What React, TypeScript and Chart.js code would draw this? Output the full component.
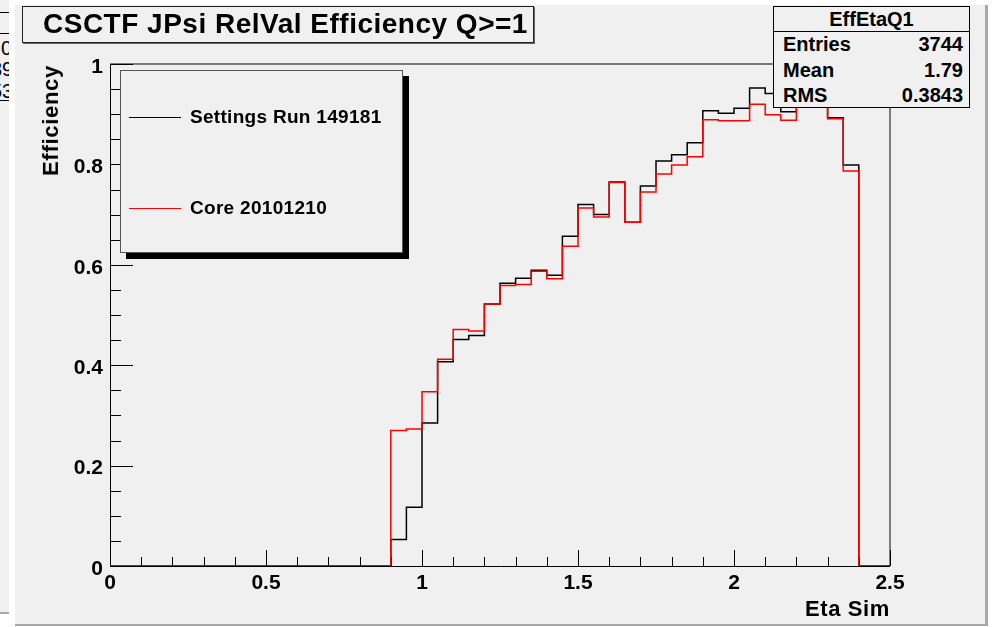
import React, { useEffect, useRef } from "react";
import { Chart, registerables } from "chart.js";

Chart.register(...registerables);

// ---------- data ----------
const etaMin = 0;
const etaMax = 2.5;
const binWidth = 0.05;

// Efficiency per eta bin (50 bins, 0 .. 2.5)
const settingsRunEff = [
  0, 0, 0, 0, 0, 0, 0, 0, 0, 0,
  0, 0, 0, 0, 0, 0, 0, 0,
  0.053, 0.117, 0.285, 0.407, 0.451, 0.459, 0.522, 0.563, 0.573, 0.589,
  0.579, 0.657, 0.72, 0.7, 0.765, 0.685, 0.757, 0.807, 0.819, 0.843,
  0.907, 0.902, 0.912, 0.952, 0.941, 0.905, 0.955, 0.928, 0.893, 0.799,
  0, 0,
];
const coreEff = [
  0, 0, 0, 0, 0, 0, 0, 0, 0, 0,
  0, 0, 0, 0, 0, 0, 0, 0,
  0.27, 0.273, 0.347, 0.412, 0.471, 0.468, 0.522, 0.559, 0.561, 0.587,
  0.572, 0.637, 0.713, 0.695, 0.764, 0.685, 0.745, 0.781, 0.799, 0.815,
  0.889, 0.887, 0.887, 0.92, 0.899, 0.888, 0.949, 0.92, 0.891, 0.787,
  0, 0,
];
const xTickLabels = ["0", "0.5", "1", "1.5", "2", "2.5"];
const yTickLabels = ["0", "0.2", "0.4", "0.6", "0.8", "1"];
const seriesNames = ["Settings Run 149181", "Core 20101210"];
const statsRows = [
  ["Entries", "3744"],
  ["Mean", "1.79"],
  ["RMS", "0.3843"],
];

const FONT = '"Liberation Sans", Arial, Helvetica, sans-serif';

function toSteps(vals: number[]) {
  const pts = vals.map((v, i) => ({ x: etaMin + i * binWidth, y: v }));
  pts.push({ x: etaMax, y: vals[vals.length - 1] });
  return pts;
}

const frameTicks = {
  id: "frameTicks",
  beforeDatasetsDraw(chart: any) {
    const { ctx, chartArea: a, scales } = chart;
    const x = scales.x;
    const y = scales.y;
    ctx.save();
    ctx.strokeStyle = "#555";
    ctx.lineWidth = 1.5;
    ctx.beginPath();
    ctx.moveTo(a.left, a.top);
    ctx.lineTo(a.right, a.top);
    ctx.lineTo(a.right, a.bottom);
    ctx.stroke();
    ctx.strokeStyle = "#000";
    ctx.lineWidth = 1;
    ctx.beginPath();
    ctx.moveTo(a.left + 0.5, a.top);
    ctx.lineTo(a.left + 0.5, a.bottom + 0.5);
    ctx.lineTo(a.right, a.bottom + 0.5);
    ctx.stroke();
    ctx.beginPath();
    for (let k = 0; k <= 20; k++) {
      const py = Math.round(y.getPixelForValue(k * 0.05)) + 0.5;
      const len = k % 4 === 0 ? 23 : 11;
      ctx.moveTo(a.left, py);
      ctx.lineTo(a.left + len, py);
    }
    for (let k = 0; k <= 25; k++) {
      const px = Math.round(x.getPixelForValue(k * 0.1)) + 0.5;
      const len = k % 5 === 0 ? 16 : 9;
      ctx.moveTo(px, a.bottom);
      ctx.lineTo(px, a.bottom - len);
    }
    ctx.stroke();
    ctx.restore();
  },
};

export default function App() {
  const ref = useRef<HTMLCanvasElement>(null);

  useEffect(() => {
    if (!ref.current) return;
    const chart = new Chart(ref.current, {
      type: "line",
      data: {
        datasets: [
          {
            label: seriesNames[1],
            data: toSteps(coreEff),
            borderColor: "#ff0000",
            borderWidth: 1.5,
            pointRadius: 0,
            stepped: "before",
            fill: false,
            order: 0,
          },
          {
            label: seriesNames[0],
            data: toSteps(settingsRunEff),
            borderColor: "#000000",
            borderWidth: 1.5,
            pointRadius: 0,
            stepped: "before",
            fill: false,
            order: 1,
          },
        ],
      },
      options: {
        animation: false,
        responsive: false,
        devicePixelRatio: 1,
        events: [],
        layout: { padding: { left: 0, right: 102, top: 64, bottom: 0 } },
        plugins: { legend: { display: false }, tooltip: { enabled: false } },
        scales: {
          x: {
            type: "linear",
            min: etaMin,
            max: etaMax,
            grid: { display: false, drawTicks: false },
            border: { display: false },
            ticks: {
              stepSize: 0.5,
              autoSkip: false,
              maxRotation: 0,
              padding: 5,
              color: "#000",
              font: { family: FONT, size: 21, weight: "bold" },
              callback: (v: any) => {
                const i = Math.round(Number(v) / 0.5);
                return xTickLabels[i] ?? "";
              },
            },
            afterFit: (s: any) => {
              s.height = 61;
            },
          },
          y: {
            type: "linear",
            min: 0,
            max: 1,
            grid: { display: false, drawTicks: false },
            border: { display: false },
            ticks: {
              stepSize: 0.2,
              autoSkip: false,
              padding: 7,
              labelOffset: 3,
              color: "#000",
              font: { family: FONT, size: 21, weight: "bold" },
              callback: (v: any) => {
                const i = Math.round(Number(v) / 0.2);
                return yTickLabels[i] ?? "";
              },
            },
            afterFit: (s: any) => {
              s.width = 110;
            },
          },
        },
      } as any,
      plugins: [frameTicks],
    });
    return () => chart.destroy();
  }, []);

  const bold = { fontFamily: FONT, fontWeight: "bold" as const, color: "#000" };

  return (
    <div style={{ position: "fixed", left: 0, top: 0, width: 992, height: 627, background: "#fff", overflow: "hidden" }}>
      {/* partial neighbouring pad on the left */}
      <div style={{ position: "absolute", left: 0, top: 0, width: 9, height: 612, background: "#f0f0f0", borderBottom: "2px solid #a8a8a8", overflow: "hidden" }}>
        <div style={{ position: "absolute", left: 0, top: 12, width: 9, height: 0, borderTop: "1px solid #000" }} />
        <div style={{ position: "absolute", left: 0, top: 33, width: 9, height: 0, borderTop: "1px solid #000" }} />
        <div style={{ position: "absolute", left: 0, top: 100, width: 9, height: 0, borderTop: "1px solid #000" }} />
        <div style={{ position: "absolute", left: 1, top: 37, fontFamily: FONT, fontSize: 20, whiteSpace: "nowrap" }}>0</div>
        <div style={{ position: "absolute", left: -9, top: 58, fontFamily: FONT, fontSize: 20, whiteSpace: "nowrap" }}>39</div>
        <div style={{ position: "absolute", left: -9, top: 80, fontFamily: FONT, fontSize: 20, whiteSpace: "nowrap" }}>53</div>
      </div>
      {/* main pad */}
      <div style={{ position: "absolute", left: 15, top: 5, width: 970, height: 619, background: "#f0f0f0", borderRight: "3px solid #a8a8a8", borderBottom: "2px solid #a8a8a8" }} />
      <canvas ref={ref} width={992} height={627} style={{ position: "absolute", left: 0, top: 0, width: 992, height: 627 }} />
      {/* title */}
      <div style={{ position: "absolute", left: 22, top: 6, width: 510, height: 35, background: "#f0f0f0", border: "1px solid #222", boxShadow: "1px 1px 0 #666" }} />
      <div style={{ ...bold, position: "absolute", left: 43, top: 6, height: 36, lineHeight: "36px", fontSize: 28, letterSpacing: 0.5, whiteSpace: "nowrap" }}>
        CSCTF JPsi RelVal Efficiency Q&gt;=1
      </div>
      {/* legend */}
      <div style={{ position: "absolute", left: 120, top: 70, width: 281, height: 181, background: "#f0f0f0", border: "1px solid #555", boxShadow: "6px 6px 0 #000" }}>
        <div style={{ position: "absolute", left: 8, top: 46, width: 52, height: 0, borderTop: "1.5px solid #000" }} />
        <div style={{ ...bold, position: "absolute", left: 69, top: 35, lineHeight: "22px", fontSize: 19, letterSpacing: 0.3, whiteSpace: "nowrap" }}>{seriesNames[0]}</div>
        <div style={{ position: "absolute", left: 8, top: 137, width: 52, height: 0, borderTop: "1.5px solid #ff0000" }} />
        <div style={{ ...bold, position: "absolute", left: 69, top: 126, lineHeight: "22px", fontSize: 19, letterSpacing: 0.3, whiteSpace: "nowrap" }}>{seriesNames[1]}</div>
      </div>
      {/* stats box */}
      <div style={{ position: "absolute", left: 773, top: 6, width: 195, height: 100, background: "#f0f0f0", border: "1px solid #000" }}>
        <div style={{ ...bold, position: "absolute", left: 0, top: 0, width: 195, height: 24, lineHeight: "24px", textAlign: "center", fontSize: 20 }}>EffEtaQ1</div>
        <div style={{ position: "absolute", left: 0, top: 24, width: 195, height: 0, borderTop: "1px solid #000" }} />
        {statsRows.map((r, i) => (
          <div key={r[0]} style={{ position: "absolute", left: 9, top: 25 + i * 25.5, width: 180, height: 24, lineHeight: "24px", fontSize: 20, ...bold }}>
            <span style={{ position: "absolute", left: 0 }}>{r[0]}</span>
            <span style={{ position: "absolute", right: 0 }}>{r[1]}</span>
          </div>
        ))}
      </div>
      {/* axis titles */}
      <div style={{ ...bold, position: "absolute", right: 992 - 890, top: 597, lineHeight: "24px", fontSize: 22, letterSpacing: 0.6, whiteSpace: "nowrap" }}>Eta Sim</div>
      <div style={{ ...bold, position: "absolute", left: 51, top: 65, width: 0, height: 0 }}>
        <div style={{ position: "absolute", right: 0, top: -12, lineHeight: "24px", fontSize: 22, letterSpacing: 0.7, whiteSpace: "nowrap", transformOrigin: "100% 50%", transform: "rotate(-90deg)" }}>
          Efficiency
        </div>
      </div>
    </div>
  );
}
